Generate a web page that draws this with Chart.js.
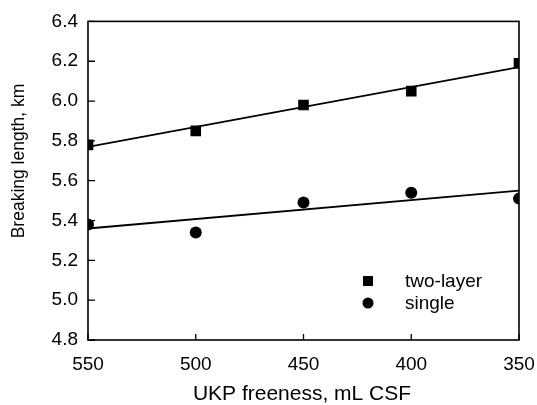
<!DOCTYPE html>
<html>
<head>
<meta charset="utf-8">
<script src="https://cdn.jsdelivr.net/npm/chart.js@4/dist/chart.umd.min.js"></script>
<style>
  html, body { margin: 0; padding: 0; background: #fff; }
  #wrap { width: 537px; height: 405px; position: relative; }
</style>
</head>
<body>
<div id="wrap"><canvas id="chart"></canvas></div>
<script>
// DATA
const freeness = [550, 500, 450, 400, 350];
const twoLayer = [5.78, 5.85, 5.98, 6.05, 6.19];
const single = [5.38, 5.34, 5.49, 5.54, 5.51];

// fitted lines at the two ends
const fitX = [550, 350];
const fitTwoLayer = [5.77, 6.17];
const fitSingle = [5.36, 5.55];

const xTicks = [550, 500, 450, 400, 350];
const yTicks = [4.8, 5.0, 5.2, 5.4, 5.6, 5.8, 6.0, 6.2, 6.4];

const FONT = "'Liberation Sans', Arial, Helvetica, sans-serif";

const pts = (xs, ys) => xs.map((x, i) => ({ x, y: ys[i] }));

// box + inward tick marks
const frame = {
  id: "frame",
  afterDatasetsDraw(chart) {
    const { ctx, chartArea: a, scales } = chart;
    ctx.save();
    ctx.strokeStyle = "#000";
    ctx.lineWidth = 1.6;
    ctx.strokeRect(a.left, a.top, a.right - a.left, a.bottom - a.top);
    ctx.lineWidth = 1.3;
    ctx.beginPath();
    xTicks.forEach((v) => {
      const px = scales.x.getPixelForValue(v);
      ctx.moveTo(px, a.bottom);
      ctx.lineTo(px, a.bottom - 6);
    });
    yTicks.forEach((v) => {
      const py = scales.y.getPixelForValue(v);
      ctx.moveTo(a.left, py);
      ctx.lineTo(a.left + 7, py);
    });
    ctx.stroke();
    ctx.restore();
  },
};

// axis titles
const titles = {
  id: "titles",
  afterDraw(chart) {
    const { ctx } = chart;
    ctx.save();
    ctx.fillStyle = "#000";
    ctx.textAlign = "center";
    ctx.textBaseline = "middle";
    ctx.font = "21px " + FONT;
    ctx.fillText("UKP freeness, mL CSF", 302, 394);
    ctx.translate(19, 161);
    ctx.rotate(-Math.PI / 2);
    ctx.font = "17.5px " + FONT;
    ctx.fillText("Breaking length, km", 0, 0);
    ctx.restore();
  },
};

// legend inside the plot
const inLegend = {
  id: "inLegend",
  afterDraw(chart) {
    const { ctx } = chart;
    const items = chart.data.datasets.filter((d) => d.inLegend);
    ctx.save();
    ctx.font = "19px " + FONT;
    ctx.textBaseline = "middle";
    ctx.textAlign = "left";
    items.forEach((ds, i) => {
      const y = 281 + i * 22;
      ctx.fillStyle = "#000";
      if (ds.pointStyle === "rect") {
        ctx.fillRect(368 - 5, y - 5, 10, 10);
      } else {
        ctx.beginPath();
        ctx.arc(368, y, 5.5, 0, Math.PI * 2);
        ctx.fill();
      }
      ctx.fillText(ds.label, 405, y + 1);
    });
    ctx.restore();
  },
};

new Chart(document.getElementById("chart"), {
  type: "scatter",
  data: {
    datasets: [
      {
        label: "two-layer",
        data: pts(freeness, twoLayer),
        pointStyle: "rect",
        pointRadius: 7.5,
        backgroundColor: "#000",
        borderColor: "#000",
        borderWidth: 0,
        inLegend: true,
      },
      {
        label: "single",
        data: pts(freeness, single),
        pointStyle: "circle",
        pointRadius: 6,
        backgroundColor: "#000",
        borderColor: "#000",
        borderWidth: 0,
        inLegend: true,
      },
      {
        type: "line",
        label: "fit two-layer",
        data: pts(fitX, fitTwoLayer),
        borderColor: "#000",
        borderWidth: 1.8,
        pointRadius: 0,
        fill: false,
      },
      {
        type: "line",
        label: "fit single",
        data: pts(fitX, fitSingle),
        borderColor: "#000",
        borderWidth: 1.8,
        pointRadius: 0,
        fill: false,
      },
    ],
  },
  options: {
    responsive: true,
    maintainAspectRatio: false,
    animation: false,
    layout: { padding: { top: 19, right: 18, bottom: 0, left: 0 } },
    plugins: {
      legend: { display: false },
      tooltip: { enabled: false },
    },
    scales: {
      x: {
        type: "linear",
        reverse: true,
        min: 350,
        max: 550,
        afterBuildTicks: (scale) => {
          scale.ticks = xTicks.map((v) => ({ value: v }));
        },
        afterFit: (scale) => {
          scale.height = 65;
          scale.paddingLeft = 0;
          scale.paddingRight = 0;
        },
        grid: { display: false, drawTicks: false },
        border: { display: false },
        ticks: {
          padding: 13,
          color: "#000",
          font: { family: FONT, size: 19 },
        },
      },
      y: {
        min: 4.8,
        max: 6.4,
        afterBuildTicks: (scale) => {
          scale.ticks = yTicks.map((v) => ({ value: v }));
        },
        afterFit: (scale) => {
          scale.width = 88;
        },
        grid: { display: false, drawTicks: false },
        border: { display: false },
        ticks: {
          padding: 10,
          color: "#000",
          font: { family: FONT, size: 19 },
          callback: (v) => Number(v).toFixed(1),
        },
      },
    },
  },
  plugins: [frame, titles, inLegend],
});
</script>
</body>
</html>
